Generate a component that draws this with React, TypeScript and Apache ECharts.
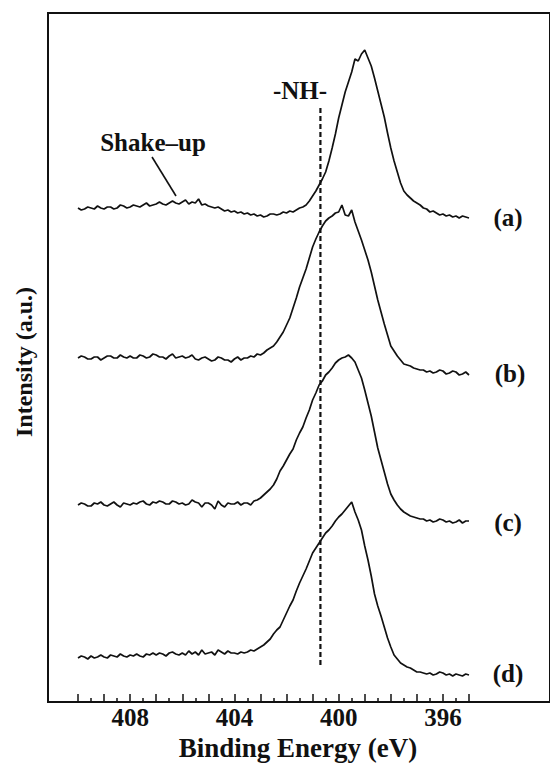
import React, { useEffect, useRef } from 'react';
import * as echarts from 'echarts';

// Binding energy grid (eV), one row per eV
const energy = [
  410, 409.875, 409.75, 409.625, 409.5, 409.375, 409.25, 409.125,
  409, 408.875, 408.75, 408.625, 408.5, 408.375, 408.25, 408.125,
  408, 407.875, 407.75, 407.625, 407.5, 407.375, 407.25, 407.125,
  407, 406.875, 406.75, 406.625, 406.5, 406.375, 406.25, 406.125,
  406, 405.875, 405.75, 405.625, 405.5, 405.375, 405.25, 405.125,
  405, 404.875, 404.75, 404.625, 404.5, 404.375, 404.25, 404.125,
  404, 403.875, 403.75, 403.625, 403.5, 403.375, 403.25, 403.125,
  403, 402.875, 402.75, 402.625, 402.5, 402.375, 402.25, 402.125,
  402, 401.875, 401.75, 401.625, 401.5, 401.375, 401.25, 401.125,
  401, 400.875, 400.75, 400.625, 400.5, 400.375, 400.25, 400.125,
  400, 399.875, 399.75, 399.625, 399.5, 399.375, 399.25, 399.125,
  399, 398.875, 398.75, 398.625, 398.5, 398.375, 398.25, 398.125,
  398, 397.875, 397.75, 397.625, 397.5, 397.375, 397.25, 397.125,
  397, 396.875, 396.75, 396.625, 396.5, 396.375, 396.25, 396.125,
  396, 395.875, 395.75, 395.625, 395.5, 395.375, 395.25, 395.125,
  395,
];

// Stacked intensities (a.u.)
const spectrumA = [
  494, 492, 493, 495, 494, 493, 496, 494,
  493, 495, 495, 493, 494, 497, 496, 494,
  495, 497, 496, 495, 497, 499, 496, 497,
  498, 500, 498, 497, 499, 501, 499, 498,
  500, 502, 498, 500, 499, 503, 497, 498,
  496, 495, 494, 495, 493, 491, 492, 490,
  491, 489, 490, 488, 489, 487, 488, 486,
  487, 485, 486, 488, 488, 487, 488, 490,
  489, 491, 490, 492, 494, 495, 497, 501,
  506, 511, 517, 523, 530, 541, 554, 568,
  584, 597, 610, 620, 630, 643, 641, 648,
  652, 644, 636, 624, 611, 598, 585, 569,
  554, 541, 530, 519, 511, 507, 504, 501,
  499, 497, 494, 493, 490, 491, 489, 487,
  488, 486, 487, 485, 486, 484, 486, 485,
  484,
];
const spectrumB = [
  344, 346, 345, 343, 343, 345, 345, 342,
  344, 346, 346, 344, 344, 347, 345, 344,
  346, 344, 344, 347, 346, 344, 345, 348,
  347, 345, 345, 343, 346, 348, 344, 345,
  346, 344, 345, 347, 343, 342, 344, 345,
  343, 341, 342, 345, 344, 342, 342, 340,
  343, 345, 342, 344, 344, 346, 345, 348,
  347, 349, 352, 354, 356, 360, 365, 370,
  377, 384, 394, 404, 415, 424, 433, 444,
  455, 463, 470, 476, 481, 484, 486, 489,
  490, 497, 487, 486, 492, 480, 471, 462,
  452, 442, 430, 416, 402, 390, 378, 367,
  356, 351, 346, 342, 338, 337, 336, 334,
  333, 332, 332, 330, 331, 329, 330, 332,
  331, 328, 329, 331, 330, 327, 328, 330,
  327,
];
const spectrumC = [
  197, 199, 198, 196, 196, 199, 198, 200,
  197, 196, 198, 200, 197, 195, 199, 198,
  197, 199, 198, 200, 201, 198, 197, 200,
  199, 201, 200, 198, 198, 201, 200, 198,
  199, 197, 198, 202, 200, 199, 195, 199,
  199, 197, 193, 201, 197, 195, 199, 198,
  198, 200, 197, 199, 199, 197, 201, 202,
  204, 207, 210, 213, 217, 223, 231, 236,
  242, 248, 253, 262, 269, 275, 284, 292,
  302, 309, 317, 321, 327, 330, 334, 339,
  342, 344, 345, 347, 344, 340, 332, 324,
  312, 299, 286, 270, 254, 242, 230, 218,
  208, 202, 197, 193, 190, 188, 186, 185,
  184, 183, 183, 181, 182, 180, 181, 183,
  182, 180, 181, 179, 180, 182, 179, 181,
  181,
];
const spectrumD = [
  44, 46, 45, 43, 46, 44, 45, 47,
  45, 44, 47, 46, 45, 48, 46, 45,
  47, 46, 48, 46, 45, 48, 47, 49,
  47, 49, 48, 46, 49, 50, 48, 47,
  49, 47, 51, 48, 50, 47, 52, 48,
  49, 50, 47, 52, 50, 48, 51, 49,
  49, 48, 50, 49, 50, 52, 51, 53,
  55, 57, 60, 63, 68, 72, 75, 82,
  89, 96, 102, 111, 119, 126, 133, 141,
  149, 154, 159, 164, 169, 172, 176, 181,
  185, 188, 192, 196, 200, 190, 182, 172,
  156, 142, 126, 108, 96, 86, 75, 64,
  55, 47, 43, 39, 37, 35, 34, 32,
  30, 30, 29, 28, 29, 27, 28, 30,
  29, 27, 28, 26, 28, 27, 26, 28,
  27,
];

const spectrumLabels = ['(a)', '(b)', '(c)', '(d)'];
const xTickLabels = [408, 404, 400, 396];
const nhEnergy = 400.7;
const nhIntensityRange = [594, 34];
const shakeUpPointer = [[407.16, 545], [406.24, 506]];

const FONT = '"Liberation Serif", "Times New Roman", serif';
const INK = '#111';

export default function App() {
  const ref = useRef<HTMLDivElement>(null);

  useEffect(() => {
    const chart = echarts.init(ref.current!, null, { renderer: 'svg' });
    const pair = (arr: number[]) => energy.map((e, i) => [e, arr[i]]);
    const spectra = [spectrumA, spectrumB, spectrumC, spectrumD];

    const series: any[] = spectra.map((arr, i) => ({
      type: 'line',
      name: spectrumLabels[i],
      xAxisIndex: 1,
      yAxisIndex: 1,
      data: pair(arr),
      symbol: 'none',
      silent: true,
      lineStyle: { color: INK, width: 1.7 },
    }));
    series.push({
      type: 'line',
      xAxisIndex: 1,
      yAxisIndex: 1,
      data: nhIntensityRange.map((v) => [nhEnergy, v]),
      symbol: 'none',
      silent: true,
      lineStyle: { color: INK, width: 2.2, type: [5, 3] },
    });
    series.push({
      type: 'line',
      xAxisIndex: 1,
      yAxisIndex: 1,
      data: shakeUpPointer,
      symbol: 'none',
      silent: true,
      lineStyle: { color: INK, width: 1.6 },
    });

    const labelPos = [
      [508, 217],
      [510, 373],
      [508, 522],
      [508, 673],
    ];
    const txt = (text: string, x: number, y: number, size: number, rotation = 0) => ({
      type: 'text',
      x,
      y,
      rotation,
      style: {
        text,
        fill: INK,
        font: `bold ${size}px ${FONT}`,
        align: 'center',
        verticalAlign: 'middle',
      },
    });

    chart.setOption({
      animation: false,
      grid: [
        {
          left: 48,
          top: 13,
          width: 530,
          height: 689,
          show: true,
          borderColor: INK,
          borderWidth: 2,
          backgroundColor: 'transparent',
        },
        { left: 78, top: 13, width: 391, height: 689 },
      ],
      xAxis: [
        { gridIndex: 0, type: 'value', min: 0, max: 1, show: false },
        {
          gridIndex: 1,
          type: 'value',
          min: 395,
          max: 410,
          interval: 1,
          inverse: true,
          axisLine: { show: false },
          splitLine: { show: false },
          axisTick: { show: true, inside: true, length: 8, lineStyle: { color: INK, width: 1.5 } },
          minorTick: { show: true, splitNumber: 2, length: 4, lineStyle: { color: INK, width: 1.5 } },
          axisLabel: {
            formatter: (v: number) => (xTickLabels.includes(v) ? String(v) : ''),
            color: INK,
            fontFamily: FONT,
            fontWeight: 'bold',
            fontSize: 25,
            margin: 3,
          },
        },
      ],
      yAxis: [
        { gridIndex: 0, type: 'value', min: 0, max: 1, show: false },
        { gridIndex: 1, type: 'value', min: 0, max: 689, show: false },
      ],
      series,
      graphic: [
        ...spectrumLabels.map((t, i) => txt(t, labelPos[i][0], labelPos[i][1], 25)),
        txt('-NH-', 300, 90, 25),
        txt('Shake\u2013up', 153, 142, 25),
        txt('Binding Energy (eV)', 298, 748, 27),
        txt('Intensity (a.u.)', 24, 362, 24, Math.PI / 2),
      ],
    });

    return () => chart.dispose();
  }, []);

  return (
    <div
      ref={ref}
      style={{ position: 'fixed', left: 0, top: 0, width: 550, height: 765, background: '#fff' }}
    />
  );
}
